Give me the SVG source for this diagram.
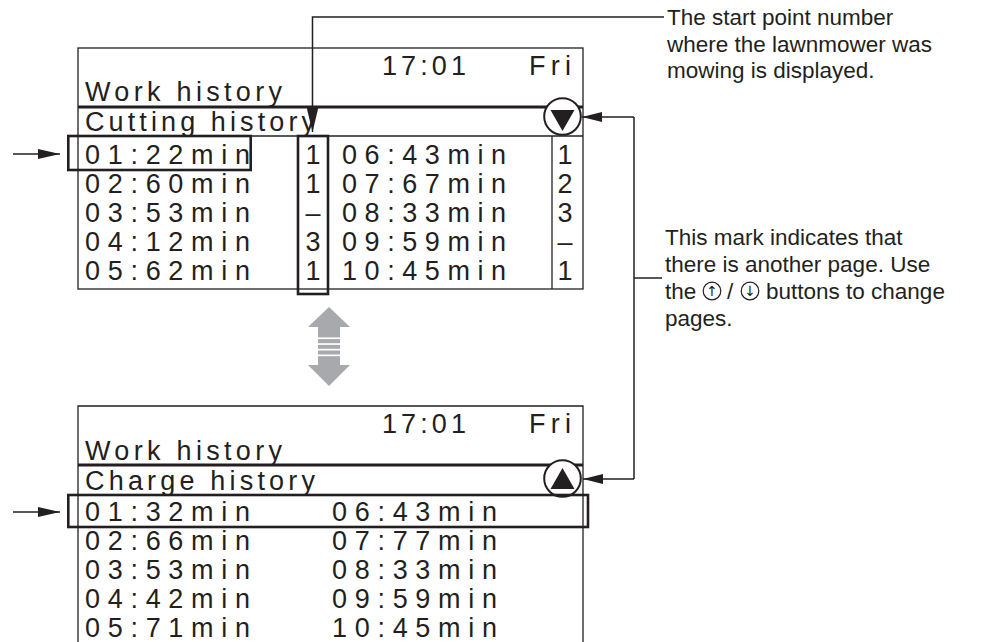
<svg xmlns="http://www.w3.org/2000/svg" width="984" height="642" viewBox="0 0 984 642">
<style>
.p{font-family:"Liberation Sans",Arial,sans-serif;font-size:27px;fill:#231f20}
.c{font-family:"Liberation Sans",Arial,sans-serif;font-size:22.5px;fill:#231f20}
.n{text-anchor:middle}
.fr{fill:none;stroke:#231f20;stroke-width:1.3}
.thk{fill:none;stroke:#231f20;stroke-width:3.2}
.box{fill:none;stroke:#231f20;stroke-width:2.6}
.ln{fill:none;stroke:#231f20;stroke-width:1.5}
.blk{fill:#231f20}
.ci{fill:none;stroke:#231f20;stroke-width:1.2}
.ca{font-family:"DejaVu Sans",sans-serif;font-size:14px;fill:#231f20;text-anchor:middle}
</style>
<defs>
<marker id="ah" viewBox="0 0 20 10" markerWidth="20" markerHeight="10" refX="20" refY="5" orient="auto" markerUnits="userSpaceOnUse">
<path d="M0,0 L20,5 L0,10 z" fill="#231f20"/>
</marker>
<marker id="ahl" viewBox="0 0 22 10" markerWidth="22" markerHeight="10" refX="22" refY="5" orient="auto" markerUnits="userSpaceOnUse">
<path d="M0,0 L22,5 L0,10 z" fill="#231f20"/>
</marker>
<marker id="ahd" viewBox="0 0 25 12" markerWidth="25" markerHeight="12" refX="25" refY="6" orient="auto" markerUnits="userSpaceOnUse">
<path d="M0,0 L25,6 L0,12 z" fill="#231f20"/>
</marker>
</defs>
<rect width="984" height="642" fill="#ffffff"/>

<g id="panel-cutting">
<rect class="fr" x="78" y="48" width="505" height="241"/>
<line class="thk" x1="78" y1="107" x2="583" y2="107"/>
<line class="fr" x1="78" y1="136" x2="583" y2="136"/>
<line class="fr" x1="552" y1="136" x2="552" y2="289"/>
<text class="p" x="382" y="75" textLength="84" lengthAdjust="spacing">17:01</text>
<text class="p" x="529" y="75" textLength="42" lengthAdjust="spacing">Fri</text>
<text class="p" x="85" y="101" textLength="197" lengthAdjust="spacing">Work history</text>
<text class="p" x="85" y="131" textLength="230" lengthAdjust="spacing">Cutting history</text>
<circle cx="562.5" cy="116.5" r="18.3" fill="#ffffff" stroke="#231f20" stroke-width="2"/>
<polygon class="blk" points="550.5,110 574.5,110 562.5,131"/>
<rect class="box" x="68.3" y="136" width="182.4" height="34"/>
<rect class="box" x="298" y="136" width="30" height="158"/>
<g class="p">
<text x="85" y="164" textLength="165" lengthAdjust="spacing">01:22min</text>
<text x="85" y="193" textLength="165" lengthAdjust="spacing">02:60min</text>
<text x="85" y="222" textLength="165" lengthAdjust="spacing">03:53min</text>
<text x="85" y="251" textLength="165" lengthAdjust="spacing">04:12min</text>
<text x="85" y="280" textLength="165" lengthAdjust="spacing">05:62min</text>
<text class="n" x="313" y="164">1</text>
<text class="n" x="313" y="193">1</text>
<text class="n" x="313" y="222">–</text>
<text class="n" x="313" y="251">3</text>
<text class="n" x="313" y="280">1</text>
<text x="342" y="164" textLength="164" lengthAdjust="spacing">06:43min</text>
<text x="342" y="193" textLength="164" lengthAdjust="spacing">07:67min</text>
<text x="342" y="222" textLength="164" lengthAdjust="spacing">08:33min</text>
<text x="342" y="251" textLength="164" lengthAdjust="spacing">09:59min</text>
<text x="342" y="280" textLength="164" lengthAdjust="spacing">10:45min</text>
<text class="n" x="565" y="164">1</text>
<text class="n" x="565" y="193">2</text>
<text class="n" x="565" y="222">3</text>
<text class="n" x="565" y="251">–</text>
<text class="n" x="565" y="280">1</text>
</g>
</g>

<g id="page-switch">
<path fill="#a7a9ac" d="M329,307 L350,327 L340,327 L340,365 L350,365 L329,386 L308,365 L318,365 L318,327 L308,327 Z"/>
<g fill="#ffffff">
<rect x="318" y="337.4" width="22" height="1.7"/>
<rect x="318" y="343.2" width="22" height="1.7"/>
<rect x="318" y="348.8" width="22" height="1.7"/>
<rect x="318" y="354.5" width="22" height="1.7"/>
</g>
</g>

<g id="panel-charge">
<path class="fr" d="M78,642 L78,406 L583,406 L583,642"/>
<line class="thk" x1="78" y1="465" x2="583" y2="465"/>
<text class="p" x="382" y="433" textLength="84" lengthAdjust="spacing">17:01</text>
<text class="p" x="529" y="433" textLength="42" lengthAdjust="spacing">Fri</text>
<text class="p" x="85" y="460" textLength="197" lengthAdjust="spacing">Work history</text>
<text class="p" x="85" y="490" textLength="230" lengthAdjust="spacing">Charge history</text>
<circle cx="562.5" cy="478.5" r="18.3" fill="#ffffff" stroke="#231f20" stroke-width="2"/>
<polygon class="blk" points="550.5,489 574.5,489 562.5,468"/>
<rect class="box" x="68.3" y="495" width="519.7" height="32"/>
<g class="p">
<text x="85" y="521" textLength="165" lengthAdjust="spacing">01:32min</text>
<text x="85" y="550" textLength="165" lengthAdjust="spacing">02:66min</text>
<text x="85" y="579" textLength="165" lengthAdjust="spacing">03:53min</text>
<text x="85" y="608" textLength="165" lengthAdjust="spacing">04:42min</text>
<text x="85" y="637" textLength="165" lengthAdjust="spacing">05:71min</text>
<text x="332" y="521" textLength="165" lengthAdjust="spacing">06:43min</text>
<text x="332" y="550" textLength="165" lengthAdjust="spacing">07:77min</text>
<text x="332" y="579" textLength="165" lengthAdjust="spacing">08:33min</text>
<text x="332" y="608" textLength="165" lengthAdjust="spacing">09:59min</text>
<text x="332" y="637" textLength="165" lengthAdjust="spacing">10:45min</text>
</g>
</g>

<g id="note-start-point">
<text class="c" x="667" y="25">The start point number</text>
<text class="c" x="667" y="51.5">where the lawnmower was</text>
<text class="c" x="667" y="78">mowing is displayed.</text>
</g>

<g id="note-page-mark">
<text class="c" x="665" y="245">This mark indicates that</text>
<text class="c" x="665" y="272">there is another page. Use</text>
<text class="c" x="665" y="299">the</text>
<circle class="ci" cx="712" cy="291" r="8.8"/>
<text class="ca" x="712" y="296">↑</text>
<text class="c" x="727" y="299">/</text>
<circle class="ci" cx="750" cy="291" r="8.8"/>
<text class="ca" x="750" y="296">↓</text>
<text class="c" x="766" y="299">buttons to change</text>
<text class="c" x="665" y="326">pages.</text>
</g>

<g id="connectors">
<line class="ln" x1="13" y1="154" x2="60" y2="154" marker-end="url(#ahl)"/>
<line class="ln" x1="13" y1="512" x2="60" y2="512" marker-end="url(#ahl)"/>
<path class="ln" d="M664,17 L312.5,17 L312.5,132" marker-end="url(#ahd)"/>
<path class="ln" d="M634,117 L634,479"/>
<line class="ln" x1="634" y1="117" x2="582" y2="117" marker-end="url(#ah)"/>
<line class="ln" x1="634" y1="479" x2="583" y2="479" marker-end="url(#ah)"/>
<line class="ln" x1="634" y1="278" x2="662" y2="278"/>
</g>
</svg>
